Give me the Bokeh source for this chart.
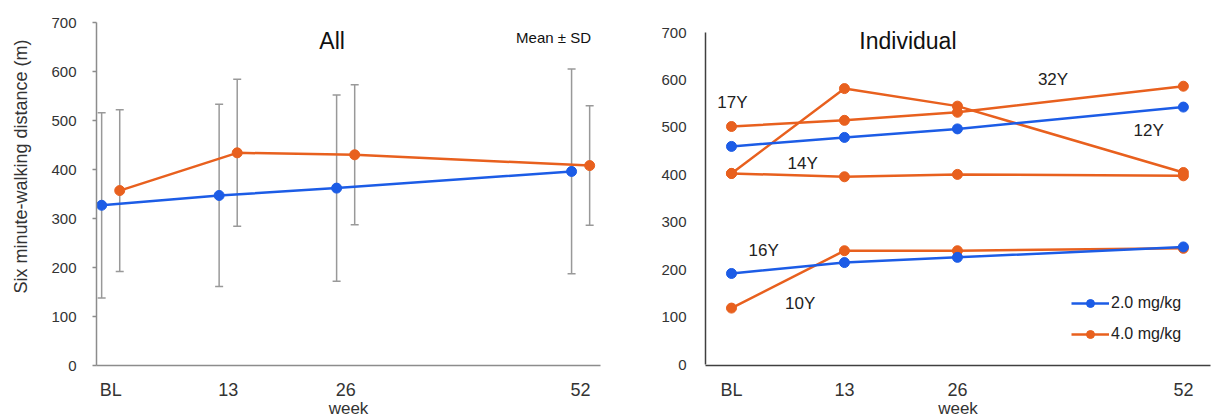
from bokeh.plotting import figure
from bokeh.models import (Range1d, Label, Whisker, ColumnDataSource, TeeHead,
                          FixedTicker, Legend, LegendItem)
from bokeh.layouts import row
from bokeh.embed import file_html
from bokeh.resources import INLINE

# ---------------- data ----------------
weeks = [0, 13, 26, 52]
week_labels = ["BL", "13", "26", "52"]

# "All" panel: mean and SD
low_mean = [327, 347, 362, 396]     # 2.0 mg/kg
low_sd = [189, 186, 190, 209]
high_mean = [357, 434, 430, 408]    # 4.0 mg/kg
high_sd = [165, 150, 143, 122]

# "Individual" panel
ind_low = [
    [460, 479, 497, 543],
    [192, 215, 226, 248],
]
ind_high = [
    [502, 515, 532, 587],
    [403, 582, 545, 405],
    [403, 396, 401, 398],
    [119, 240, 240, 245],
]
age_text = ["17Y", "14Y", "16Y", "10Y", "32Y", "12Y"]
age_week = [0.1, 8.2, 3.7, 7.9, 37, 48]
age_value = [552, 423, 240, 128, 602, 493]

series_names = ["2.0 mg/kg", "4.0 mg/kg"]

BLUE = "#1c5ce6"
ORANGE = "#e8601e"
FONT = "Liberation Sans"
PAD = "\u00a0" * 11  # shifts the rotated y-axis title upwards

# ---------------- left panel ----------------
p1 = figure(width=608, height=420, x_range=Range1d(-1.57, 54.2), y_range=Range1d(0, 700),
            output_backend="svg", toolbar_location=None, title_location=None,
            min_border_left=96, min_border_right=8, min_border_top=22, min_border_bottom=55)
p1.outline_line_color = None
p1.grid.visible = False

for mean, sd, col, off in [(low_mean, low_sd, BLUE, -1), (high_mean, high_sd, ORANGE, 1)]:
    xs = [w + off for w in weeks]
    src = ColumnDataSource(dict(x=xs, y=mean,
                                lo=[m - s for m, s in zip(mean, sd)],
                                hi=[m + s for m, s in zip(mean, sd)]))
    wk = Whisker(base="x", upper="hi", lower="lo", source=src, dimension="height",
                 line_color="#999999", line_width=1.5, level="underlay",
                 upper_head=TeeHead(size=8, line_color="#999999", line_width=1.5),
                 lower_head=TeeHead(size=8, line_color="#999999", line_width=1.5))
    p1.add_layout(wk)
    p1.line("x", "y", source=src, line_color=col, line_width=2.5)
    p1.scatter("x", "y", source=src, size=10, fill_color=col, line_color=col)

p1.xaxis.ticker = FixedTicker(ticks=weeks)
p1.xaxis.major_label_overrides = {w: l for w, l in zip(weeks, week_labels)}
p1.yaxis.ticker = FixedTicker(ticks=list(range(0, 701, 100)))
for ax in [p1.xaxis[0], p1.yaxis[0]]:
    ax.axis_line_color = "#8c8c8c"
    ax.axis_line_width = 1.5
    ax.minor_tick_line_color = None
    ax.major_label_text_font = FONT
    ax.major_label_text_color = "#333333"
    ax.axis_label_text_font = FONT
    ax.axis_label_text_font_style = "normal"
    ax.axis_label_text_color = "#333333"
p1.xaxis.major_tick_line_color = None
p1.xaxis.major_label_text_font_size = "18px"
p1.xaxis.major_label_standoff = 8
p1.xaxis.axis_label = "week"
p1.xaxis.axis_label_text_font_size = "17px"
p1.xaxis.axis_label_standoff = -4
p1.yaxis.major_tick_line_color = "#8c8c8c"
p1.yaxis.major_tick_line_width = 1.5
p1.yaxis.major_tick_out = 4
p1.yaxis.major_tick_in = 0
p1.yaxis.major_label_text_font_size = "15px"
p1.yaxis.major_label_standoff = 16
p1.yaxis.axis_label = PAD + "Six minute-walking distance (m)"
p1.yaxis.axis_label_text_font_size = "18px"
p1.yaxis.axis_label_standoff = 17

p1.add_layout(Label(x=24.5, y=663, text="All", text_align="center", text_baseline="middle",
                    text_font=FONT, text_font_size="23px", text_color="#111111"))
p1.add_layout(Label(x=49, y=669, text="Mean \u00b1 SD", text_align="center",
                    text_baseline="middle", text_font=FONT, text_font_size="15px",
                    text_color="#111111"))

# ---------------- right panel ----------------
p2 = figure(width=605, height=420, x_range=Range1d(-2.99, 55.12), y_range=Range1d(-2.1, 721.4),
            output_backend="svg", toolbar_location=None, title_location=None,
            min_border_left=97, min_border_right=3, min_border_top=22, min_border_bottom=55)
p2.outline_line_color = None
p2.grid.visible = False

leg_r = {}
for group, col, name in [(ind_high, ORANGE, series_names[1]), (ind_low, BLUE, series_names[0])]:
    for vals in group:
        src = ColumnDataSource(dict(x=weeks, y=vals))
        lr = p2.line("x", "y", source=src, line_color=col, line_width=2.5)
        sr = p2.scatter("x", "y", source=src, size=10, fill_color=col, line_color=col)
        leg_r.setdefault(name, [lr, sr])

for t, w, v in zip(age_text, age_week, age_value):
    p2.add_layout(Label(x=w, y=v, text=t, text_align="center", text_baseline="middle",
                        text_font=FONT, text_font_size="17px", text_color="#222222"))

p2.xaxis.ticker = FixedTicker(ticks=weeks)
p2.xaxis.major_label_overrides = {w: l for w, l in zip(weeks, week_labels)}
p2.yaxis.ticker = FixedTicker(ticks=list(range(0, 701, 100)))
p2.yaxis.bounds = (0, 700)
for ax in [p2.xaxis[0], p2.yaxis[0]]:
    ax.axis_line_color = "#404040"
    ax.axis_line_width = 1.5
    ax.minor_tick_line_color = None
    ax.major_tick_line_color = None
    ax.major_label_text_font = FONT
    ax.major_label_text_color = "#333333"
    ax.axis_label_text_font = FONT
    ax.axis_label_text_font_style = "normal"
    ax.axis_label_text_color = "#333333"
p2.xaxis.major_label_text_font_size = "18px"
p2.xaxis.major_label_standoff = 8
p2.xaxis.axis_label = "week"
p2.xaxis.axis_label_text_font_size = "17px"
p2.xaxis.axis_label_standoff = -4
p2.yaxis.major_label_text_font_size = "15px"
p2.yaxis.major_label_standoff = 13

p2.add_layout(Label(x=20.3, y=682, text="Individual", text_align="center",
                    text_baseline="middle", text_font=FONT, text_font_size="23px",
                    text_color="#111111"))

legend = Legend(items=[LegendItem(label=n, renderers=leg_r[n]) for n in series_names],
                location=(366, 21), glyph_width=38, glyph_height=20, label_height=20,
                label_standoff=2, spacing=11, padding=0, margin=0,
                label_text_font=FONT, label_text_font_size="16px", label_text_color="#222222",
                border_line_color=None, background_fill_alpha=0)
p2.add_layout(legend)

layout = row(p1, p2)
open("out.html", "w").write(file_html(layout, INLINE))
